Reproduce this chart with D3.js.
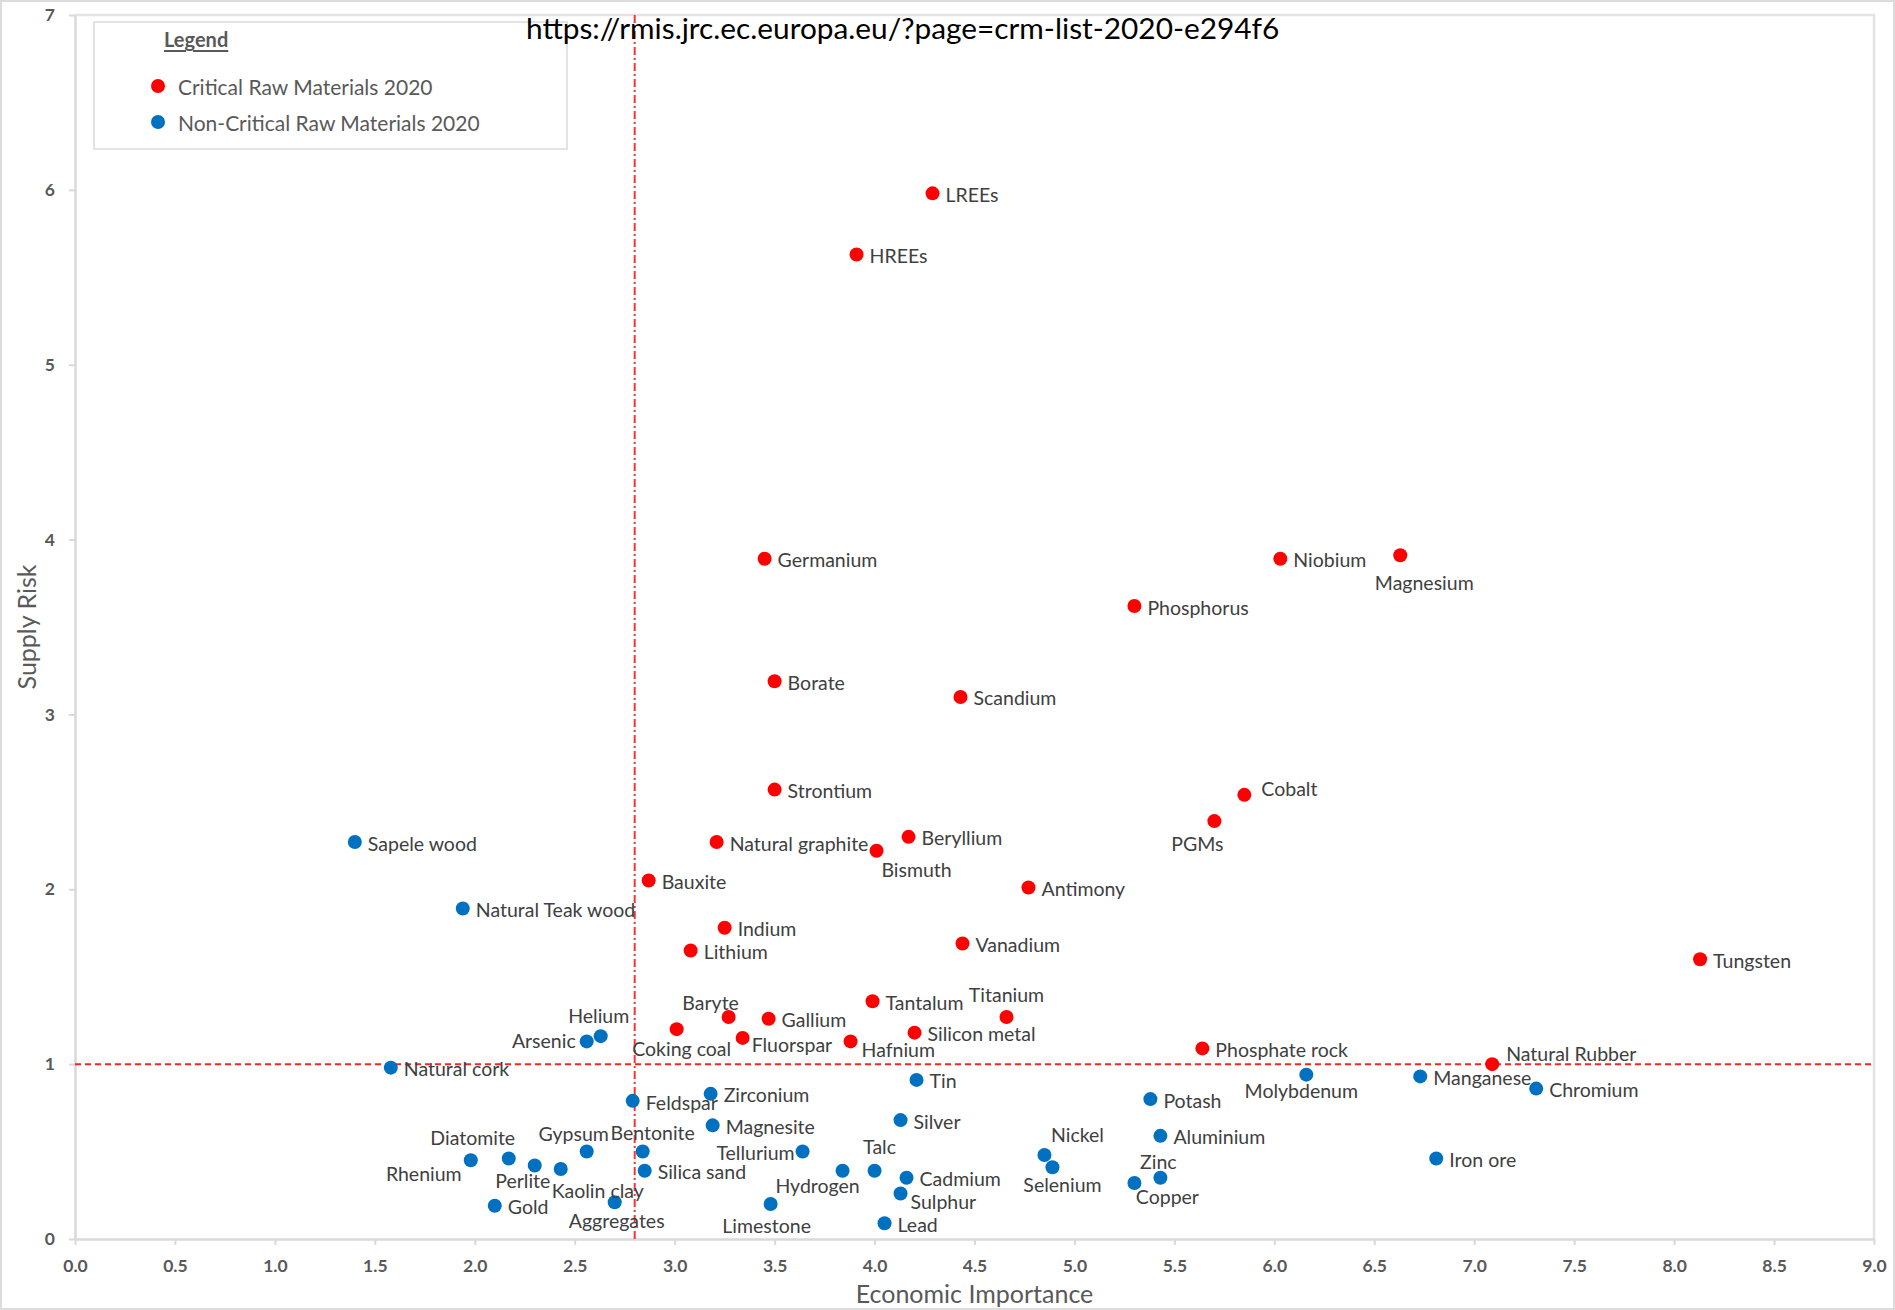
<!DOCTYPE html>
<html><head><meta charset="utf-8">
<script src="https://cdn.jsdelivr.net/npm/d3@7"></script>
<style>body{margin:0;background:#fff}</style>
</head><body>
<svg id="chart" width="1895" height="1310"></svg>
<script>
// ---------- DATA ----------
const criticalNames = ["LREEs","HREEs","Germanium","Niobium","Magnesium","Phosphorus","Borate","Scandium","Strontium","Cobalt","PGMs","Natural graphite","Beryllium","Bismuth","Bauxite","Antimony","Indium","Vanadium","Lithium","Tungsten","Tantalum","Titanium","Baryte","Gallium","Coking coal","Silicon metal","Fluorspar","Hafnium","Phosphate rock","Natural Rubber"];
const criticalEI = [4.29,3.91,3.45,6.03,6.63,5.30,3.50,4.43,3.50,5.85,5.70,3.21,4.17,4.01,2.87,4.77,3.25,4.44,3.08,8.13,3.99,4.66,3.27,3.47,3.01,4.20,3.34,3.88,5.64,7.09];
const criticalSR = [5.98,5.63,3.89,3.89,3.91,3.62,3.19,3.10,2.57,2.54,2.39,2.27,2.30,2.22,2.05,2.01,1.78,1.69,1.65,1.60,1.36,1.27,1.27,1.26,1.20,1.18,1.15,1.13,1.09,1.00];

const nonCriticalNames = ["Sapele wood","Natural Teak wood","Helium","Arsenic","Natural cork","Molybdenum","Manganese","Tin","Chromium","Potash","Feldspar","Zirconium","Silver","Magnesite","Aluminium","Nickel","Bentonite","Gypsum","Tellurium","Talc","Rhenium","Diatomite","Perlite","Kaolin clay","Silica sand","Gold","Aggregates","Limestone","Hydrogen","Cadmium","Sulphur","Lead","Selenium","Copper","Zinc","Iron ore"];
const nonCriticalEI = [1.40,1.94,2.63,2.56,1.58,6.16,6.73,4.21,7.31,5.38,2.79,3.18,4.13,3.19,5.43,4.85,2.84,2.56,3.64,4.00,1.98,2.17,2.30,2.43,2.85,2.10,2.70,3.48,3.84,4.16,4.13,4.05,4.89,5.30,5.43,6.81];
const nonCriticalSR = [2.27,1.89,1.16,1.13,0.98,0.94,0.93,0.91,0.86,0.80,0.79,0.83,0.68,0.65,0.59,0.48,0.50,0.50,0.50,0.39,0.45,0.46,0.42,0.40,0.39,0.19,0.21,0.20,0.39,0.35,0.26,0.09,0.41,0.32,0.35,0.46];

const xTickValues = [0,0.5,1,1.5,2,2.5,3,3.5,4,4.5,5,5.5,6,6.5,7,7.5,8,8.5,9];
const yTickValues = [0,1,2,3,4,5,6,7];
const thresholdEI = 2.8;
const thresholdSR = 1;
const seriesNames = ["Critical Raw Materials 2020","Non-Critical Raw Materials 2020"];
const sourceText = "https://rmis.jrc.ec.europa.eu/?page=crm-list-2020-e294f6";

// ---------- LAYOUT (label placement, not data) ----------
const labelPlace = {
  "Magnesium":["middle",24,27], "Cobalt":["start",17,-6], "PGMs":["middle",-17,22],
  "Bismuth":["middle",40,19], "Titanium":["middle",0,-22], "Baryte":["middle",-18,-14],
  "Coking coal":["middle",5,19], "Fluorspar":["start",9,7], "Hafnium":["start",11,8],
  "Natural Rubber":["start",14,-11], "Helium":["middle",-2,-21], "Arsenic":["end",-11,-1],
  "Molybdenum":["middle",-5,16], "Nickel":["middle",33,-21], "Bentonite":["middle",10,-19],
  "Gypsum":["middle",-13,-18], "Tellurium":["end",-8,1], "Talc":["middle",5,-24],
  "Rhenium":["middle",-47,13], "Diatomite":["middle",-36,-21], "Perlite":["middle",-12,15],
  "Kaolin clay":["middle",37,21], "Aggregates":["middle",2,18], "Limestone":["middle",-4,21],
  "Hydrogen":["middle",-25,15], "Sulphur":["start",10,8], "Selenium":["middle",10,17],
  "Copper":["middle",33,13], "Zinc":["middle",-2,-16], "Feldspar":["start",13,2]
};
const defaultPlace = ["start",13,1];

const W = 1895, H = 1310;
const svg = d3.select("#chart");
const FONT = "Lato, 'Open Sans', sans-serif";
const red = "#FF0000", blue = "#0070C0";
const R = 7;

const x = d3.scaleLinear().domain([0,9]).range([75,1874]);
const y = d3.scaleLinear().domain([0,7]).range([1239,15]);

// outer frame
svg.append("rect").attr("x",1).attr("y",1).attr("width",W-2).attr("height",H-2)
  .attr("fill","#fff").attr("stroke","#dcdcdc").attr("stroke-width",2);

// plot border (top & right)
svg.append("path")
  .attr("d",`M${x(0)},${y(7)}H${x(9)}V${y(0)}`)
  .attr("fill","none").attr("stroke","#e3e3e3").attr("stroke-width",2.5);

// axes
const xAxis = svg.append("g").attr("transform",`translate(0,${y(0)})`)
  .call(d3.axisBottom(x).tickValues(xTickValues).tickFormat(d3.format(".1f")).tickSize(6).tickSizeOuter(0).tickPadding(15));
const yAxis = svg.append("g").attr("transform",`translate(${x(0)},0)`)
  .call(d3.axisLeft(y).tickValues(yTickValues).tickFormat(d3.format("d")).tickSize(6).tickSizeOuter(0).tickPadding(14));
[xAxis,yAxis].forEach(g=>{
  g.select(".domain").attr("stroke","#d9d9d9").attr("stroke-width",2.5);
  g.selectAll(".tick line").attr("stroke","#d9d9d9").attr("stroke-width",2);
  g.selectAll(".tick text").attr("fill","#595959").style("font-family",FONT)
    .style("font-weight","700").style("font-size","17.5px");
});

// threshold lines
svg.append("line").attr("x1",x(thresholdEI)).attr("x2",x(thresholdEI))
  .attr("y1",y(7)).attr("y2",y(0)).attr("stroke","#FF3030").attr("stroke-width",2)
  .attr("stroke-dasharray","8,3,2,3");
svg.append("line").attr("x1",x(0)).attr("x2",x(9))
  .attr("y1",y(thresholdSR)).attr("y2",y(thresholdSR)).attr("stroke","#FF2020").attr("stroke-width",2)
  .attr("stroke-dasharray","6,4");

// axis titles
svg.append("text").attr("transform",`translate(26,${(y(0)+y(7))/2}) rotate(-90)`)
  .attr("text-anchor","middle").attr("dominant-baseline","central")
  .attr("fill","#595959").style("font-family",FONT).style("font-size","25px").text("Supply Risk");
svg.append("text").attr("x",(x(0)+x(9))/2).attr("y",1293)
  .attr("text-anchor","middle").attr("dominant-baseline","central")
  .attr("fill","#595959").style("font-family",FONT).style("font-size","25px").text("Economic Importance");

// legend
const lg = svg.append("g");
lg.append("rect").attr("x",94).attr("y",22).attr("width",473).attr("height",127)
  .attr("fill","#fff").attr("stroke","#e3e3e3").attr("stroke-width",2);
lg.append("text").attr("x",164).attr("y",39).attr("dominant-baseline","central")
  .attr("fill","#595959").style("font-family",FONT).style("font-size","20px").style("font-weight","700")
  .style("text-decoration","underline").text("Legend");
[red,blue].forEach((c,i)=>{
  lg.append("circle").attr("cx",158).attr("cy",86+i*36).attr("r",R).attr("fill",c);
  lg.append("text").attr("x",178).attr("y",86+i*36).attr("dominant-baseline","central")
    .attr("fill","#595959").style("font-family",FONT).style("font-size","21px").text(seriesNames[i]);
});

// points
const pts = [];
criticalNames.forEach((n,i)=>pts.push({name:n,ei:criticalEI[i],sr:criticalSR[i],c:red}));
nonCriticalNames.forEach((n,i)=>pts.push({name:n,ei:nonCriticalEI[i],sr:nonCriticalSR[i],c:blue}));

svg.append("g").selectAll("circle").data(pts).join("circle")
  .attr("cx",d=>x(d.ei)).attr("cy",d=>y(d.sr)).attr("r",R).attr("fill",d=>d.c);

svg.append("g").selectAll("text").data(pts).join("text")
  .each(function(d){
    const p = labelPlace[d.name] || defaultPlace;
    d3.select(this).attr("x",x(d.ei)+p[1]).attr("y",y(d.sr)+p[2]).attr("text-anchor",p[0]);
  })
  .attr("dominant-baseline","central").attr("fill","#404040")
  .style("font-family",FONT).style("font-size","19.5px").text(d=>d.name);

// source URL
svg.append("text").attr("x",526).attr("y",27).attr("dominant-baseline","central")
  .attr("fill","#000").style("font-family",FONT).style("font-size","29.8px").text(sourceText);
</script>
</body></html>
